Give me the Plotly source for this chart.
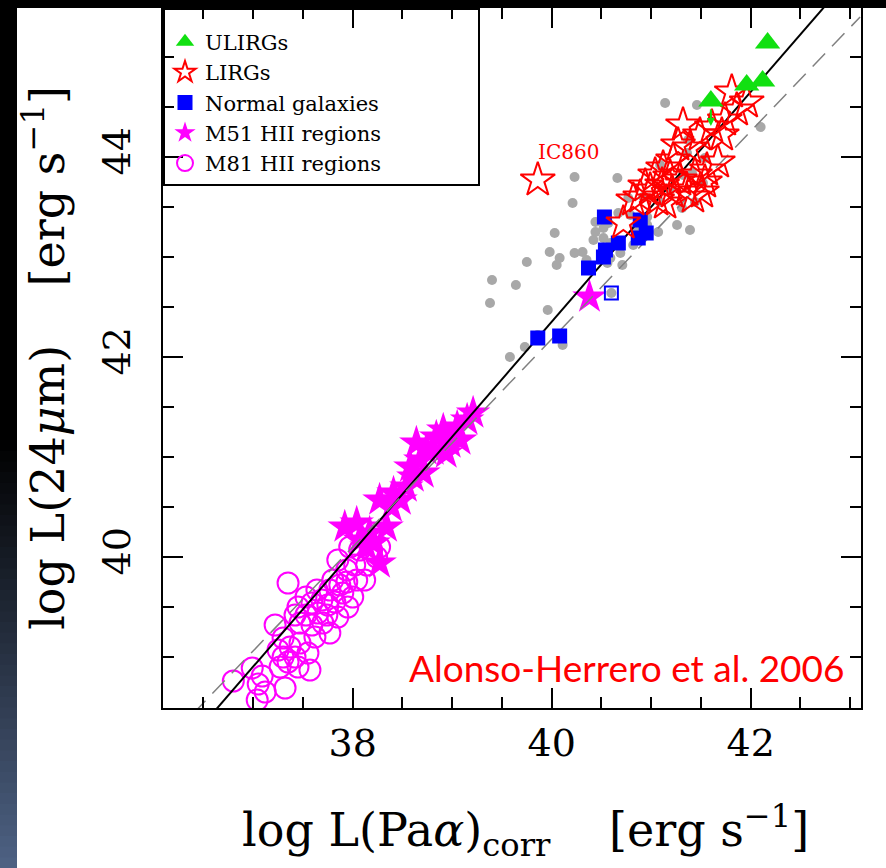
import plotly.graph_objects as go

# ---------------- data ----------------
ulirg_x = [42.17, 41.60, 41.96, 42.12]
ulirg_y = [45.14, 44.56, 44.72, 44.76]

lirg_x = [41.81, 41.96, 41.86, 41.74, 41.32, 41.49, 41.61, 41.71, 41.27, 41.39,
          41.22, 41.67, 41.56, 41.12, 41.04, 41.19, 41.29, 41.44, 41.11, 40.99,
          40.89, 41.06, 41.21, 41.36, 41.42, 41.14, 40.82, 40.72, 41.54, 41.51,
          40.94, 39.86]
lirg_y = [44.65, 44.55, 44.47, 44.37, 44.32, 44.22, 44.30, 44.22, 44.12, 44.09,
          43.97, 43.95, 43.87, 43.89, 43.82, 43.80, 43.77, 43.82, 43.72, 43.67,
          43.60, 43.57, 43.65, 43.67, 43.60, 43.54, 43.57, 43.34, 43.75, 43.65,
          43.71, 43.77]

normal_x = [40.53, 40.89, 40.95, 40.87, 40.67, 40.54, 40.52, 40.37, 39.86, 40.08, 40.60]
normal_y = [43.40, 43.37, 43.24, 43.19, 43.14, 43.07, 43.00, 42.89, 42.19, 42.21, 42.64]
normal_symbol = ["square"] * 10 + ["square-open"]

m51_x = [37.92, 38.04, 38.17, 38.34, 38.27, 38.41, 38.48, 38.54, 38.61, 38.58,
         38.64, 38.74, 38.68, 38.71, 38.84, 38.91, 38.98, 39.05, 39.08, 39.15,
         39.21, 38.94, 38.81, 38.14, 38.07, 38.27, 38.21, 38.39, 40.38]
m51_y = [40.30, 40.34, 40.24, 40.30, 40.57, 40.64, 40.57, 40.70, 40.80, 40.90,
         41.14, 41.07, 40.97, 40.84, 41.20, 41.27, 41.14, 41.30, 41.17, 41.37,
         41.44, 41.04, 41.07, 40.10, 40.17, 39.94, 40.14, 40.50, 42.60]

m81_x = [36.80, 36.99, 37.05, 37.04, 37.09, 37.27, 37.30, 37.32, 37.25, 37.37,
         37.42, 37.45, 37.47, 37.55, 37.57, 37.22, 37.30, 37.42, 37.47, 37.53,
         37.59, 37.53, 37.45, 37.59, 37.64, 37.69, 37.65, 37.70, 37.74, 37.77,
         37.85, 37.82, 37.77, 37.90, 38.00, 37.80, 37.87, 37.94, 38.04, 38.12,
         37.35, 37.85, 37.94, 37.97, 38.07, 38.19, 38.24, 38.27, 38.14, 38.02,
         37.62, 37.12, 37.75, 37.95, 37.35]
m81_y = [38.76, 38.89, 38.73, 38.57, 38.81, 38.90, 39.00, 38.69, 39.07, 39.10,
         39.00, 38.90, 39.14, 39.04, 38.87, 39.32, 39.19, 39.42, 39.34, 39.42,
         39.32, 39.60, 39.50, 39.54, 39.67, 39.57, 39.44, 39.34, 39.42, 39.24,
         39.40, 39.55, 39.67, 39.64, 39.60, 39.77, 39.72, 39.75, 39.77, 39.77,
         39.74, 39.97, 39.87, 40.10, 40.07, 40.07, 40.00, 40.10, 39.92, 39.92,
         39.20, 38.65, 39.52, 39.50, 38.95]

grey_x = [41.14, 41.46, 42.10, 41.37, 41.54, 41.36, 41.32, 40.23, 40.66, 40.21,
          41.09, 41.19, 41.44, 41.31, 41.09, 40.96, 40.79, 40.84, 40.96, 40.67,
          40.44, 40.57, 40.44, 40.42, 40.52, 40.59, 40.51, 40.69, 40.59, 40.31,
          40.23, 40.35, 39.98, 40.08, 40.03, 40.05, 39.75, 39.40, 39.64, 39.38,
          39.96, 39.86, 40.11, 39.73, 39.58, 40.71, 40.56, 41.07, 41.26, 41.39,
          41.52, 41.41, 40.77, 40.92, 40.82, 40.52, 40.60]
grey_y = [44.54, 44.52, 44.30, 44.17, 43.99, 44.04, 43.82, 43.80, 43.79, 43.54,
          43.92, 43.67, 43.55, 43.49, 43.55, 43.40, 43.42, 43.30, 43.32, 43.44,
          43.35, 43.34, 43.25, 43.17, 43.19, 43.14, 43.04, 43.04, 42.99, 43.05,
          43.04, 42.97, 43.05, 42.99, 43.24, 42.92, 42.95, 42.77, 42.72, 42.54,
          42.47, 42.22, 42.12, 42.10, 42.00, 42.92, 42.94, 43.25, 43.32, 43.27,
          43.74, 43.84, 43.59, 43.60, 43.12, 43.29, 42.64]

fit_x = [36.5, 43.0]
fit_y = [38.33, 45.80]
unity_x = [36.2, 43.1]
unity_y = [38.23, 45.40]

# upper-limit arrow on one ULIRG
arrow_x = 41.60
arrow_from_y = 44.49
arrow_to_y = 44.31

ic860_label = "IC860"
ic860_pos = (40.17, 44.05)

x_tickvals = [38, 40, 42]
y_tickvals = [40, 42, 44]

# ---------------- styling ----------------
SERIF = "DejaVu Serif"
GREEN = "#11e011"
RED = "#ff0000"
BLUE = "#0000ff"
MAG = "#ff00ff"
GREY = "#a8a8a8"
SP = "\u00a0"

fig = go.Figure()

fig.add_trace(go.Scatter(x=grey_x, y=grey_y, mode="markers", showlegend=False,
                         marker=dict(symbol="circle", size=10, color=GREY), hoverinfo="skip"))
fig.add_trace(go.Scatter(x=m81_x, y=m81_y, mode="markers", name="M81 HII regions",
                         legendrank=5,
                         marker=dict(symbol="circle-open", size=21, color=MAG, line=dict(width=2, color=MAG))))
fig.add_trace(go.Scatter(x=m51_x, y=m51_y, mode="markers", name="M51 HII regions",
                         legendrank=4,
                         marker=dict(symbol="star", size=26, color=MAG, line=dict(width=0))))
fig.add_trace(go.Scatter(x=fit_x, y=fit_y, mode="lines", showlegend=False,
                         line=dict(color="black", width=2), hoverinfo="skip"))
fig.add_trace(go.Scatter(x=unity_x, y=unity_y, mode="lines", showlegend=False,
                         line=dict(color="#808080", width=1.5, dash="18px,10px"), hoverinfo="skip"))
fig.add_trace(go.Scatter(x=normal_x, y=normal_y, mode="markers", name="Normal galaxies" + SP * 14,
                         legendrank=3,
                         marker=dict(symbol=normal_symbol, size=13, color=BLUE, line=dict(width=2, color=BLUE))))
fig.add_trace(go.Scatter(x=lirg_x, y=lirg_y, mode="markers", name="LIRGs",
                         legendrank=2,
                         marker=dict(symbol="star-open", size=26, color=RED, line=dict(width=2, color=RED))))
fig.add_trace(go.Scatter(x=ulirg_x, y=ulirg_y, mode="markers", name="ULIRGs",
                         legendrank=1,
                         marker=dict(symbol="triangle-up", size=22, color=GREEN, line=dict(width=0))))

# ---------------- layout ----------------
W, H = 886, 868
L, R, T, B = 163, 25, 8, 160
pw, ph = W - L - R, H - T - B

def ypaper(py):
    return (H - B - py) / ph

def xpaper(px):
    return (px - L) / pw

axis_common = dict(
    showgrid=False, zeroline=False, showline=True, linecolor="black", linewidth=2,
    mirror="allticks", ticks="inside", ticklen=20, tickwidth=2, tickcolor="black",
    tickfont=dict(family=SERIF, size=38, color="black"),
    minor=dict(ticks="inside", ticklen=11, tickwidth=2, tickcolor="black", dtick=0.5, showgrid=False),
)

fig.update_xaxes(range=[36.093, 43.109], tickmode="array", tickvals=x_tickvals,
                 ticktext=[str(v) for v in x_tickvals], ticklabelstandoff=0,
                 **axis_common)
fig.update_yaxes(range=[38.49, 45.49], tickmode="array", tickvals=y_tickvals,
                 ticktext=[str(v) for v in y_tickvals], tickangle=-90, ticklabelstandoff=16,
                 title=dict(text="log L(24<i>μ</i>m)" + SP * 4 + "[erg s<sup>−1</sup>]",
                            font=dict(family=SERIF, size=46, color="black"), standoff=16),
                 **axis_common)

shapes = []
# black top band
shapes.append(dict(type="rect", xref="paper", yref="paper", x0=-0.3, x1=1.1,
                   y0=ypaper(8), y1=ypaper(-20), fillcolor="black", line=dict(width=0), layer="above"))
# left band: black fading into slate blue
g_start, g_end = 440, 868
shapes.append(dict(type="rect", xref="paper", yref="paper", x0=xpaper(-20), x1=xpaper(17),
                   y0=ypaper(g_start), y1=ypaper(-20), fillcolor="black", line=dict(width=0), layer="above"))
n = 40
c0, c1 = (0, 0, 0), (78, 98, 132)
for i in range(n):
    f = (i + 0.5) / n
    col = "rgb(%d,%d,%d)" % tuple(round(a + (b - a) * f) for a, b in zip(c0, c1))
    pa = g_start + (g_end - g_start) * i / n
    pb = g_start + (g_end - g_start) * (i + 1) / n + 1
    shapes.append(dict(type="rect", xref="paper", yref="paper", x0=xpaper(-20), x1=xpaper(17),
                       y0=ypaper(pb), y1=ypaper(pa), fillcolor=col, line=dict(width=0), layer="above"))

annotations = [
    dict(x=arrow_x, y=arrow_to_y, ax=arrow_x, ay=arrow_from_y, xref="x", yref="y",
         axref="x", ayref="y", showarrow=True, arrowhead=2, arrowsize=0.8, arrowwidth=2,
         arrowcolor=GREEN, text=""),
    dict(x=ic860_pos[0], y=ic860_pos[1], xref="x", yref="y", text=ic860_label, showarrow=False,
         font=dict(family=SERIF, size=20, color=RED)),
    dict(x=xpaper(846), y=ypaper(692), xref="paper", yref="paper", xanchor="right", yanchor="bottom",
         text="Alonso-Herrero et al. 2006", showarrow=False,
         font=dict(family="Lato", size=37, color=RED)),
    # x-axis title
    dict(x=xpaper(525), y=ypaper(866), xref="paper", yref="paper", xanchor="center", yanchor="bottom",
         text="log L(Pa<i>α</i>)<sub>corr</sub>" + SP * 4 + "[erg s<sup>−1</sup>]", showarrow=False,
         font=dict(family=SERIF, size=46, color="black")),
]

fig.update_layout(
    width=W, height=H, margin=dict(l=L, r=R, t=T, b=B, autoexpand=False),
    paper_bgcolor="white", plot_bgcolor="white",
    shapes=shapes, annotations=annotations,
    legend=dict(x=0, y=1, xanchor="left", yanchor="top", bgcolor="rgba(0,0,0,0)",
                bordercolor="black", borderwidth=2, traceorder="normal", tracegroupgap=0,
                title=dict(text=SP, font=dict(family=SERIF, size=9)),
                font=dict(family=SERIF, size=21, color="black"), itemsizing="trace"),
    showlegend=True,
)

fig.write_html("out.html")
